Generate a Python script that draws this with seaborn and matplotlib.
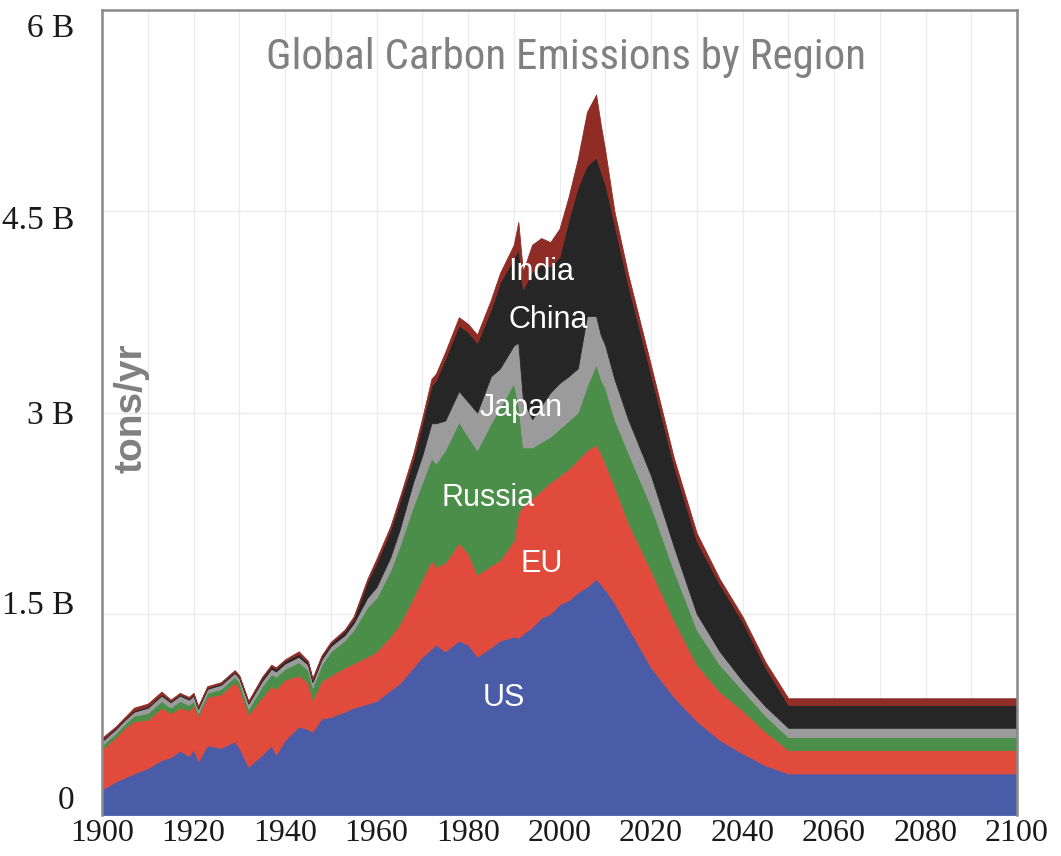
import matplotlib
matplotlib.use("Agg")
import matplotlib.pyplot as plt
import matplotlib.transforms as mtransforms
from matplotlib import font_manager
import numpy as np
import pandas as pd
import seaborn as sns

# ---- data (billions of tons per year, per region) ----
years = [1900, 1903, 1905, 1907, 1910, 1913, 1915, 1917, 1919, 1920, 1921, 1923, 1926,
         1929, 1930, 1932, 1935, 1937, 1938, 1940, 1943, 1945, 1946, 1948, 1950, 1953,
         1955, 1958, 1960, 1963, 1965, 1968, 1970, 1972, 1973, 1975, 1978, 1980, 1982,
         1985, 1987, 1990, 1991, 1992, 1994, 1996, 1998, 2000, 2002, 2004, 2006, 2008,
         2009, 2010, 2012, 2015, 2020, 2025, 2030, 2035, 2040, 2045, 2050, 2100]

us = [0.19, 0.25, 0.28, 0.31, 0.35, 0.41, 0.43, 0.48, 0.44, 0.49, 0.40, 0.52, 0.50,
      0.55, 0.50, 0.36, 0.45, 0.52, 0.45, 0.56, 0.66, 0.64, 0.62, 0.72, 0.73, 0.77,
      0.80, 0.83, 0.85, 0.93, 0.98, 1.10, 1.18, 1.24, 1.27, 1.22, 1.30, 1.27, 1.18,
      1.25, 1.30, 1.33, 1.32, 1.35, 1.40, 1.47, 1.50, 1.57, 1.60, 1.66, 1.70, 1.76,
      1.72, 1.68, 1.58, 1.40, 1.10, 0.88, 0.70, 0.56, 0.46, 0.37, 0.31, 0.31]

eu = [0.30, 0.33, 0.37, 0.39, 0.36, 0.39, 0.33, 0.32, 0.34, 0.33, 0.34, 0.36, 0.40,
      0.44, 0.45, 0.39, 0.43, 0.44, 0.49, 0.45, 0.38, 0.35, 0.24, 0.28, 0.31, 0.33,
      0.33, 0.35, 0.37, 0.40, 0.44, 0.52, 0.58, 0.66, 0.58, 0.66, 0.73, 0.68, 0.61,
      0.61, 0.60, 0.72, 0.94, 0.95, 0.96, 0.95, 0.98, 0.96, 0.98, 0.99, 1.02, 1.00,
      0.98, 0.94, 0.87, 0.78, 0.72, 0.57, 0.42, 0.36, 0.32, 0.25, 0.175, 0.175]

russia = [0.03, 0.03, 0.03, 0.04, 0.05, 0.05, 0.04, 0.05, 0.04, 0.03, 0.02, 0.03, 0.04,
          0.04, 0.04, 0.04, 0.08, 0.09, 0.09, 0.08, 0.10, 0.09, 0.09, 0.12, 0.18, 0.20,
          0.25, 0.37, 0.40, 0.49, 0.58, 0.68, 0.72, 0.76, 0.77, 0.84, 0.90, 0.87, 0.93,
          1.06, 1.14, 1.17, 0.79, 0.44, 0.38, 0.36, 0.34, 0.35, 0.36, 0.35, 0.48, 0.60,
          0.55, 0.56, 0.50, 0.52, 0.48, 0.37, 0.26, 0.20, 0.15, 0.12, 0.095, 0.095]

japan = [0.03, 0.03, 0.03, 0.03, 0.04, 0.04, 0.04, 0.04, 0.04, 0.04, 0.03, 0.03, 0.03,
         0.03, 0.03, 0.04, 0.04, 0.04, 0.04, 0.04, 0.04, 0.04, 0.04, 0.04, 0.04, 0.04,
         0.05, 0.07, 0.08, 0.10, 0.12, 0.18, 0.20, 0.26, 0.30, 0.22, 0.23, 0.26, 0.28,
         0.35, 0.29, 0.28, 0.47, 0.36, 0.21, 0.27, 0.33, 0.34, 0.33, 0.33, 0.52, 0.36,
         0.33, 0.32, 0.30, 0.25, 0.23, 0.18, 0.12, 0.10, 0.07, 0.07, 0.07, 0.07]

china = [0.01, 0.01, 0.01, 0.01, 0.01, 0.01, 0.01, 0.01, 0.01, 0.01, 0.01, 0.01, 0.01,
         0.01, 0.01, 0.01, 0.02, 0.02, 0.02, 0.02, 0.02, 0.02, 0.02, 0.02, 0.02, 0.03,
         0.03, 0.12, 0.18, 0.20, 0.21, 0.17, 0.24, 0.28, 0.32, 0.46, 0.49, 0.52, 0.52,
         0.50, 0.64, 0.65, 0.70, 0.82, 1.10, 1.05, 0.94, 0.94, 1.17, 1.35, 1.12, 1.18,
         1.22, 1.20, 1.15, 1.00, 0.75, 0.60, 0.54, 0.50, 0.44, 0.29, 0.17, 0.17]

india = [0.015, 0.01, 0.01, 0.02, 0.02, 0.02, 0.01, 0.01, 0.01, 0.01, 0.01, 0.01, 0.01,
         0.01, 0.01, 0.01, 0.01, 0.01, 0.01, 0.01, 0.02, 0.01, 0.01, 0.01, 0.01, 0.01,
         0.02, 0.02, 0.03, 0.03, 0.03, 0.04, 0.04, 0.05, 0.05, 0.05, 0.06, 0.06, 0.06,
         0.07, 0.07, 0.10, 0.20, 0.13, 0.20, 0.20, 0.18, 0.21, 0.17, 0.21, 0.40, 0.47,
         0.35, 0.25, 0.10, 0.08, 0.07, 0.06, 0.06, 0.04, 0.04, 0.04, 0.05, 0.05]

regions = ["US", "EU", "Russia", "Japan", "China", "India"]
region_colors = ["#4a5ca8", "#e14b3b", "#4a8e4a", "#9b9b9b", "#262626", "#8e2c25"]

x_ticks = [1900, 1920, 1940, 1960, 1980, 2000, 2020, 2040, 2060, 2080, 2100]
y_ticks = [0, 1.5, 3, 4.5, 6]
y_tick_labels = ["0", "1.5 B", "3 B", "4.5 B", "6 B"]

# label anchor points (year, billions)
label_pos = {"India": (1996.0, 4.05), "China": (1997.5, 3.69), "Japan": (1991.6, 3.03),
             "Russia": (1984.4, 2.36), "EU": (1996.2, 1.87), "US": (1987.9, 0.87)}

df = pd.DataFrame({"year": years, "US": us, "EU": eu, "Russia": russia,
                   "Japan": japan, "China": china, "India": india}).set_index("year")

# ---- fonts ----
installed = {f.name for f in font_manager.fontManager.ttflist}
def pick(*names):
    for n in names:
        if n in installed:
            return n
    return "DejaVu Sans"

serif = pick("Liberation Serif", "DejaVu Serif")
narrow = pick("Liberation Sans Narrow", "Roboto Condensed", "DejaVu Sans")
sans = pick("Liberation Sans", "DejaVu Sans")

sns.set_theme(style="white")
plt.rcParams["font.family"] = [sans, "DejaVu Sans"]

W, H = 1061, 856
fig = plt.figure(figsize=(W / 100, H / 100), dpi=100)
ax = fig.add_axes([102 / W, 1 - 815 / H, (1017 - 102) / W, (815 - 10) / H])

polys = ax.stackplot(df.index.values, [df[r].values for r in regions],
                     colors=region_colors, labels=regions, zorder=2)
for p, c in zip(polys, region_colors):
    p.set_edgecolor(c)
    p.set_linewidth(0.6)

ax.set_xlim(1900, 2100)
ax.set_ylim(0, 6)
ax.set_xticks(x_ticks)
ax.set_xticks(list(range(1900, 2101, 10)), minor=True)
ax.set_yticks(y_ticks)
ax.set_xticklabels([str(t) for t in x_ticks], fontsize=23, family=serif, color="#1a1a1a")
ax.set_yticklabels(y_tick_labels, fontsize=24, family=serif, color="#1a1a1a")
ax.tick_params(axis="both", which="both", length=0)
ax.tick_params(axis="x", pad=3)
ax.tick_params(axis="y", pad=20)

ax.grid(True, which="both", axis="x", color="#ececec", linewidth=1)
ax.grid(True, which="major", axis="y", color="#ececec", linewidth=1)
ax.set_axisbelow(True)

for side in ["left", "top", "right"]:
    ax.spines[side].set_color("#8a8a8a")
    ax.spines[side].set_linewidth(1.8)
ax.spines["bottom"].set_visible(False)

# small vertical offsets of y labels as in the reference
offsets = [18, 11, 0, -6, -15]
for lab, dy in zip(ax.get_yticklabels(), offsets):
    lab.set_transform(lab.get_transform() +
                      mtransforms.ScaledTranslation(0, dy / 100, fig.dpi_scale_trans))

for name, (xx, yy) in label_pos.items():
    ax.text(xx, yy, name, color="white", fontsize=22, family=sans,
            ha="center", va="center", zorder=5)

fig.text(566 / W, 1 - 57 / H, "Global Carbon Emissions by Region", fontsize=31,
         family=narrow, color="#808080", ha="center", va="center")
fig.text(131 / W, 1 - 408 / H, "tons/yr", fontsize=28, family=sans, fontweight="bold",
         color="#808080", rotation=90, ha="center", va="center")

fig.savefig("out.png", dpi=100, facecolor="white")
